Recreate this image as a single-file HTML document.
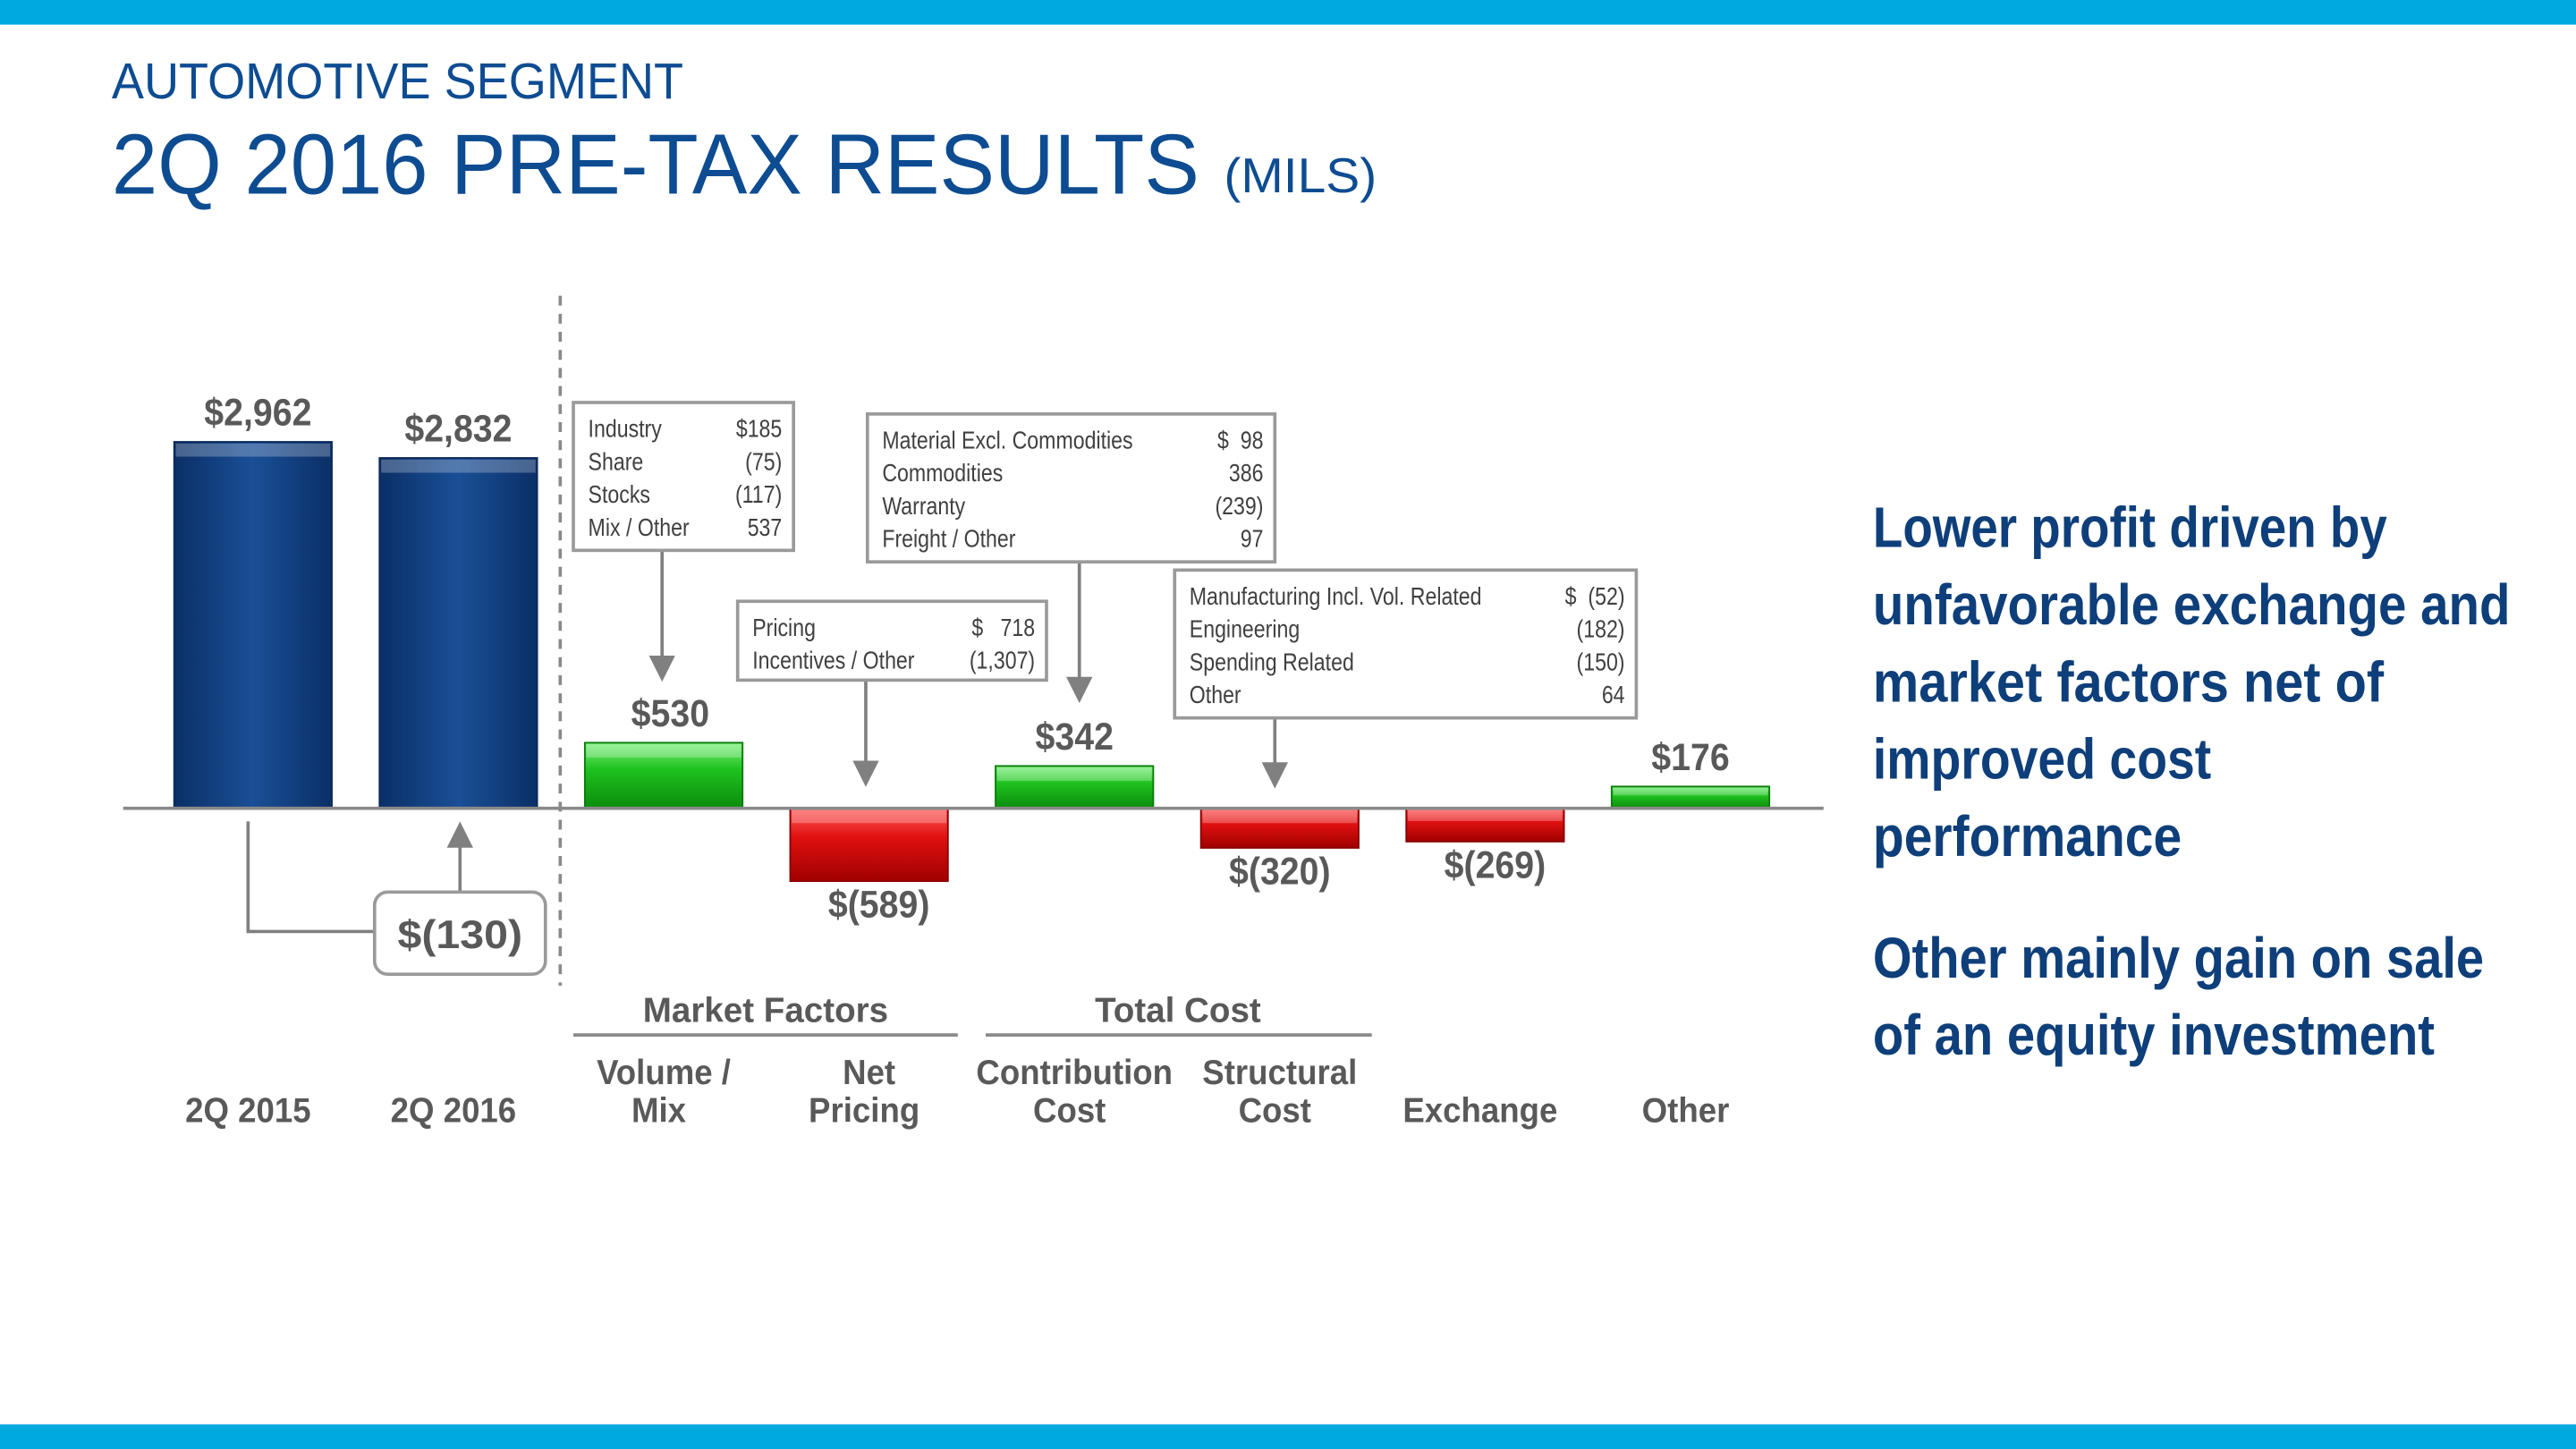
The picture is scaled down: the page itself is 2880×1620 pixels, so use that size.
<!DOCTYPE html>
<html><head><meta charset="utf-8"><style>
html,body{margin:0;padding:0;background:#fff}
svg{display:block}
</style></head><body>
<svg id="chart" width="2880" height="1620" viewBox="0 0 1568 882" xmlns="http://www.w3.org/2000/svg" font-family="Liberation Sans, sans-serif">
<defs>
<linearGradient id="gBlue" x1="0" x2="1"><stop offset="0" stop-color="#0b2f66"/><stop offset="0.5" stop-color="#1a4f96"/><stop offset="1" stop-color="#0b2f66"/></linearGradient>
<linearGradient id="gGreen" x1="0" x2="0" y1="0" y2="1"><stop offset="0" stop-color="#7ef07e"/><stop offset="0.4" stop-color="#1fc21f"/><stop offset="1" stop-color="#0c8c0c"/></linearGradient>
<linearGradient id="gRed" x1="0" x2="0" y1="0" y2="1"><stop offset="0" stop-color="#ff5a5a"/><stop offset="0.4" stop-color="#e01010"/><stop offset="1" stop-color="#a00000"/></linearGradient>
<marker id="arr" markerWidth="8" markerHeight="8" refX="4" refY="4" orient="auto"><path d="M0,0 L8,4 L0,8 z" fill="#808080"/></marker>
</defs>
<rect x="0" y="0" width="1568" height="15" fill="#00a9e0"/>
<rect x="0" y="867" width="1568" height="15" fill="#00a9e0"/>
<text x="68" y="60" font-size="31" fill="#0e4c92" textLength="348" lengthAdjust="spacingAndGlyphs">AUTOMOTIVE SEGMENT</text>
<text x="68" y="118" font-size="52" fill="#0e4c92" textLength="662" lengthAdjust="spacingAndGlyphs">2Q 2016 PRE-TAX RESULTS</text>
<text x="745" y="117" font-size="30" fill="#0e4c92" textLength="93" lengthAdjust="spacingAndGlyphs">(MILS)</text>
<g id="bars"></g>
<line x1="75" y1="492" x2="1110" y2="492" stroke="#8a8a8a" stroke-width="2"/>
<line x1="341" y1="180" x2="341" y2="600" stroke="#8a8a8a" stroke-width="2" stroke-dasharray="6,5"/>
<g fill="none" stroke="#808080" stroke-width="2">
<polyline points="151,500 151,567 228,567"/>
<line x1="280" y1="543" x2="280" y2="508" marker-end="url(#arr)"/>
</g>
<rect x="228" y="543" width="104" height="50" rx="8" fill="#fff" stroke="#9a9a9a" stroke-width="2"/>
<text x="280" y="577" font-size="24" font-weight="bold" fill="#595959" text-anchor="middle" textLength="76" lengthAdjust="spacingAndGlyphs">$(130)</text>
<g font-size="21" font-weight="bold" fill="#595959" text-anchor="middle">
<text x="466" y="622">Market Factors</text>
<text x="717" y="622">Total Cost</text>
</g>
<line x1="349" y1="630" x2="583" y2="630" stroke="#8a8a8a" stroke-width="2"/>
<line x1="600" y1="630" x2="835" y2="630" stroke="#8a8a8a" stroke-width="2"/>
<g id="cats" font-size="21" font-weight="bold" fill="#595959" text-anchor="middle"></g>
<g id="boxes" font-size="15" fill="#404040"></g>
<g font-size="35" font-weight="bold" fill="#0e3f7a" lengthAdjust="spacingAndGlyphs">
<text x="1140" y="333" textLength="313" lengthAdjust="spacingAndGlyphs">Lower profit driven by</text>
<text x="1140" y="380" textLength="388" lengthAdjust="spacingAndGlyphs">unfavorable exchange and</text>
<text x="1140" y="427" textLength="311" lengthAdjust="spacingAndGlyphs">market factors net of</text>
<text x="1140" y="474" textLength="206" lengthAdjust="spacingAndGlyphs">improved cost</text>
<text x="1140" y="521" textLength="188" lengthAdjust="spacingAndGlyphs">performance</text>
<text x="1140" y="595" textLength="372" lengthAdjust="spacingAndGlyphs">Other mainly gain on sale</text>
<text x="1140" y="642" textLength="342" lengthAdjust="spacingAndGlyphs">of an equity investment</text>
</g>
</svg>
<script>
const categories=["2Q 2015","2Q 2016","Volume / Mix","Net Pricing","Contribution Cost","Structural Cost","Exchange","Other"];
const catLine1=["","","Volume /","Net","Contribution","Structural","",""];
const catLine2=["2Q 2015","2Q 2016","Mix","Pricing","Cost","Cost","Exchange","Other"];
const values=[2962,2832,530,-589,342,-320,-269,176];
const valueLabels=["$2,962","$2,832","$530","$(589)","$342","$(320)","$(269)","$176"];
const kinds=["total","total","delta","delta","delta","delta","delta","delta"];

const NS="http://www.w3.org/2000/svg";
const y0=492, k=0.0753, x0=154, step=125, bw=96;
const xs=i=>x0+i*step;
const ys=v=>y0-v*k;
function mk(t,a,p){const e=document.createElementNS(NS,t);for(const n in a)e.setAttribute(n,a[n]);p.appendChild(e);return e;}
function squeeze(e,f){const w=e.getComputedTextLength();if(w>0){e.setAttribute('textLength',(w*f).toFixed(1));e.setAttribute('lengthAdjust','spacingAndGlyphs');}}
const bars=document.getElementById('bars'), cats=document.getElementById('cats');
values.forEach((v,i)=>{
  const cx=xs(i), top=Math.min(ys(v),y0), h=Math.abs(ys(v)-y0);
  const fill=kinds[i]==="total"?"url(#gBlue)":(v>=0?"url(#gGreen)":"url(#gRed)");
  const stroke=kinds[i]==="total"?"#0a2a5a":(v>=0?"#0a7a0a":"#8a0000");
  const r=mk('rect',{x:cx-bw/2,y:top,width:bw,height:h,fill:fill,stroke:stroke,'stroke-width':1},bars);
  
  
  const bev=Math.min(8,h/3);
  const hl=mk('rect',{x:cx-bw/2+1,y:top+1,width:bw-2,height:bev,fill:'#ffffff','fill-opacity':0.25},bars);
  
  
  const ly=v>=0?top-10:top+h+22;
  const dx=(i===3||i===6)?6:(i===0?3:(i===2?4:0));
  const t=mk('text',{x:cx+dx,y:ly,'font-size':23,'font-weight':'bold',fill:'#595959','text-anchor':'middle'},bars);
  t.textContent=valueLabels[i];
  
  
  squeeze(t,0.93);
  if(catLine1[i]){const a=mk('text',{x:cx,y:660},cats);a.textContent=catLine1[i];squeeze(a,0.95);}
  const b=mk('text',{x:cx-3,y:683},cats);b.textContent=catLine2[i];
  
  
  squeeze(b,0.95);
});
const boxes=[
 {x:349,y:245,w:134,h:90,ax:403,ay:413,rows:[["Industry","$185"],["Share","(75)"],["Stocks","(117)"],["Mix / Other","537"]],n:'volume-mix-callout'},
 {x:449,y:366,w:188,h:48,ax:527,ay:477,rows:[["Pricing","$   718"],["Incentives / Other","(1,307)"]],n:'net-pricing-callout'},
 {x:528,y:252,w:248,h:90,ax:657,ay:426,rows:[["Material Excl. Commodities","$  98"],["Commodities","386"],["Warranty","(239)"],["Freight / Other","97"]],n:'contribution-cost-callout'},
 {x:715,y:347,w:281,h:90,ax:776,ay:478,rows:[["Manufacturing Incl. Vol. Related","$  (52)"],["Engineering","(182)"],["Spending Related","(150)"],["Other","64"]],n:'structural-cost-callout'}
];
const bg=document.getElementById('boxes');
boxes.forEach(b=>{
  const g=mk('g',{},bg);
  
  
  mk('line',{x1:b.ax,y1:b.y+b.h,x2:b.ax,y2:b.ay-6,stroke:'#808080','stroke-width':2,'marker-end':'url(#arr)'},g);
  mk('rect',{x:b.x,y:b.y,width:b.w,height:b.h,fill:'#fff',stroke:'#9a9a9a','stroke-width':2},g);
  b.rows.forEach((r,j)=>{
    const yy=b.y+21+j*20;
    const a=mk('text',{x:b.x+9,y:yy},g);a.textContent=r[0];squeeze(a,0.84);
    const c=mk('text',{x:b.x+b.w-7,y:yy,'text-anchor':'end'},g);c.textContent=r[1];c.style.whiteSpace='pre';squeeze(c,0.84);
  });
});
</script>
</body></html>
